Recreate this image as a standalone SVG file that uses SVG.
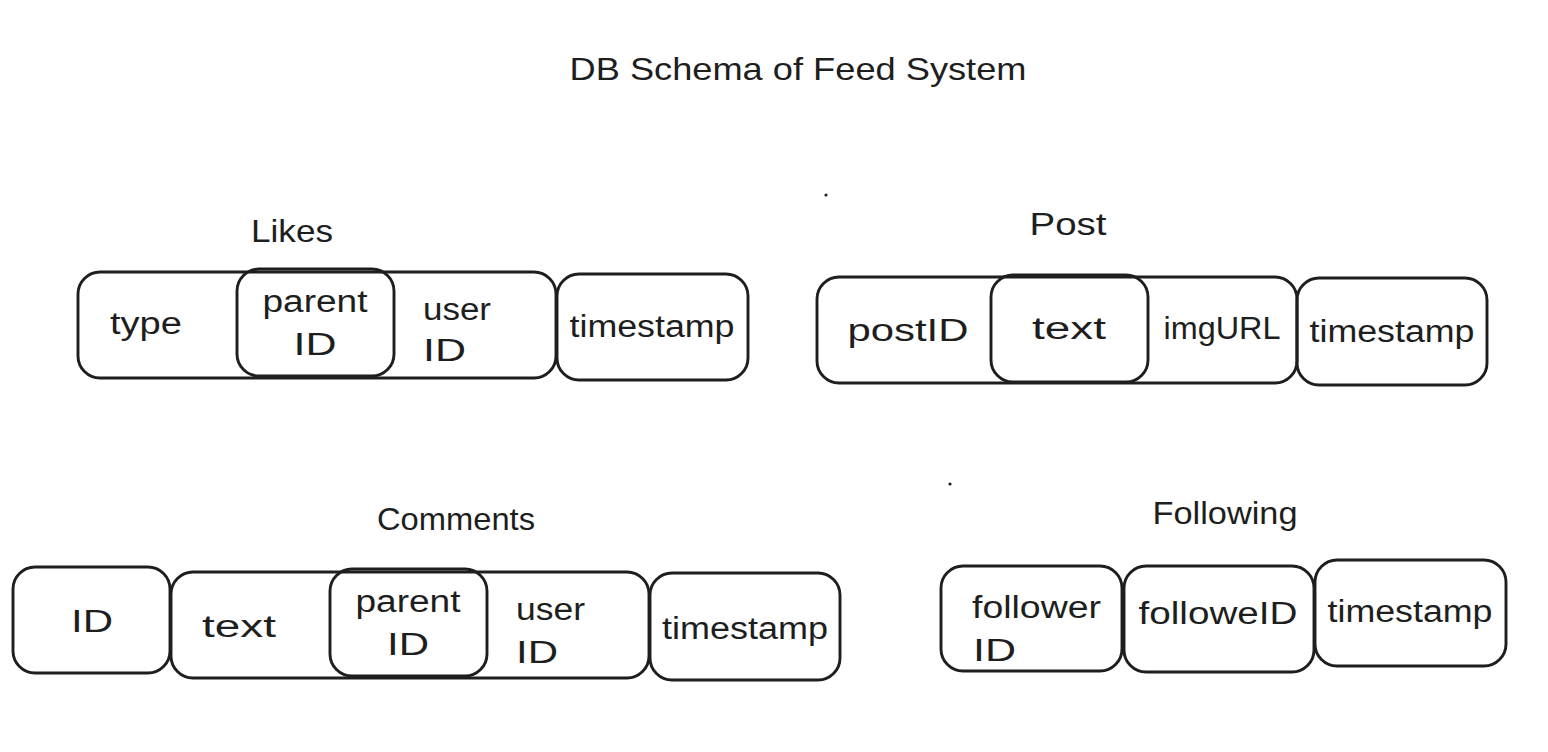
<svg xmlns="http://www.w3.org/2000/svg" width="1548" height="752" viewBox="0 0 1548 752">
<style>
rect.c{fill:none;stroke:#1e1e1e;stroke-width:2.9}
text{font-family:"Liberation Sans",Arial,sans-serif;font-size:31px;fill:#1e1e1e}
.m{text-anchor:middle}
.t{font-size:32px}
</style>
<rect width="1548" height="752" fill="#ffffff"/>
<g id="title"><text class="m t" x="798" y="80" textLength="457" lengthAdjust="spacingAndGlyphs">DB Schema of Feed System</text></g>
<circle cx="826" cy="195" r="1.6" fill="#1e1e1e"/>
<circle cx="950" cy="484" r="1.6" fill="#1e1e1e"/>

<g id="likes">
<text class="m t" x="292" y="242" textLength="82" lengthAdjust="spacingAndGlyphs">Likes</text>
<rect class="c" x="78" y="272" width="478" height="106" rx="22"/>
<rect class="c" x="237" y="269" width="157" height="107" rx="22"/>
<rect class="c" x="557" y="274" width="191" height="106" rx="22"/>
<text class="m" x="146" y="334" textLength="72" lengthAdjust="spacingAndGlyphs">type</text>
<text class="m" x="315" y="312" textLength="105" lengthAdjust="spacingAndGlyphs">parent</text>
<text class="m" x="315" y="355" textLength="43" lengthAdjust="spacingAndGlyphs">ID</text>
<text x="423" y="320" textLength="68" lengthAdjust="spacingAndGlyphs">user</text>
<text x="423" y="361" textLength="43" lengthAdjust="spacingAndGlyphs">ID</text>
<text class="m" x="652" y="337" textLength="165" lengthAdjust="spacingAndGlyphs">timestamp</text>
</g>

<g id="post">
<text class="m t" x="1068" y="235" textLength="77" lengthAdjust="spacingAndGlyphs">Post</text>
<rect class="c" x="817" y="277" width="480" height="106" rx="22"/>
<rect class="c" x="991" y="275" width="157" height="107" rx="22"/>
<rect class="c" x="1297" y="278" width="190" height="107" rx="22"/>
<text class="m" x="908" y="341" textLength="121" lengthAdjust="spacingAndGlyphs">postID</text>
<text class="m" x="1069" y="339" textLength="74" lengthAdjust="spacingAndGlyphs">text</text>
<text class="m" x="1222" y="339" textLength="117" lengthAdjust="spacingAndGlyphs">imgURL</text>
<text class="m" x="1392" y="342" textLength="165" lengthAdjust="spacingAndGlyphs">timestamp</text>
</g>

<g id="comments">
<text class="m t" x="456" y="530" textLength="158" lengthAdjust="spacingAndGlyphs">Comments</text>
<rect class="c" x="13" y="567" width="157" height="106" rx="22"/>
<rect class="c" x="171" y="572" width="478" height="106" rx="22"/>
<rect class="c" x="330" y="569" width="157" height="107" rx="22"/>
<rect class="c" x="650" y="573" width="190" height="107" rx="22"/>
<text class="m" x="92" y="632" textLength="42" lengthAdjust="spacingAndGlyphs">ID</text>
<text class="m" x="239" y="637" textLength="74" lengthAdjust="spacingAndGlyphs">text</text>
<text class="m" x="408" y="612" textLength="105" lengthAdjust="spacingAndGlyphs">parent</text>
<text class="m" x="408" y="655" textLength="42" lengthAdjust="spacingAndGlyphs">ID</text>
<text x="516" y="620" textLength="69" lengthAdjust="spacingAndGlyphs">user</text>
<text x="516" y="663" textLength="42" lengthAdjust="spacingAndGlyphs">ID</text>
<text class="m" x="745" y="639" textLength="166" lengthAdjust="spacingAndGlyphs">timestamp</text>
</g>

<g id="following">
<text class="m t" x="1225" y="524" textLength="145" lengthAdjust="spacingAndGlyphs">Following</text>
<rect class="c" x="941" y="566" width="181" height="105" rx="22"/>
<rect class="c" x="1124" y="566" width="190" height="106" rx="22"/>
<rect class="c" x="1315" y="560" width="191" height="106" rx="22"/>
<text x="972" y="618" textLength="129" lengthAdjust="spacingAndGlyphs">follower</text>
<text x="973" y="661" textLength="43" lengthAdjust="spacingAndGlyphs">ID</text>
<text class="m" x="1218" y="624" textLength="159" lengthAdjust="spacingAndGlyphs">followeID</text>
<text class="m" x="1410" y="622" textLength="165" lengthAdjust="spacingAndGlyphs">timestamp</text>
</g>
</svg>
